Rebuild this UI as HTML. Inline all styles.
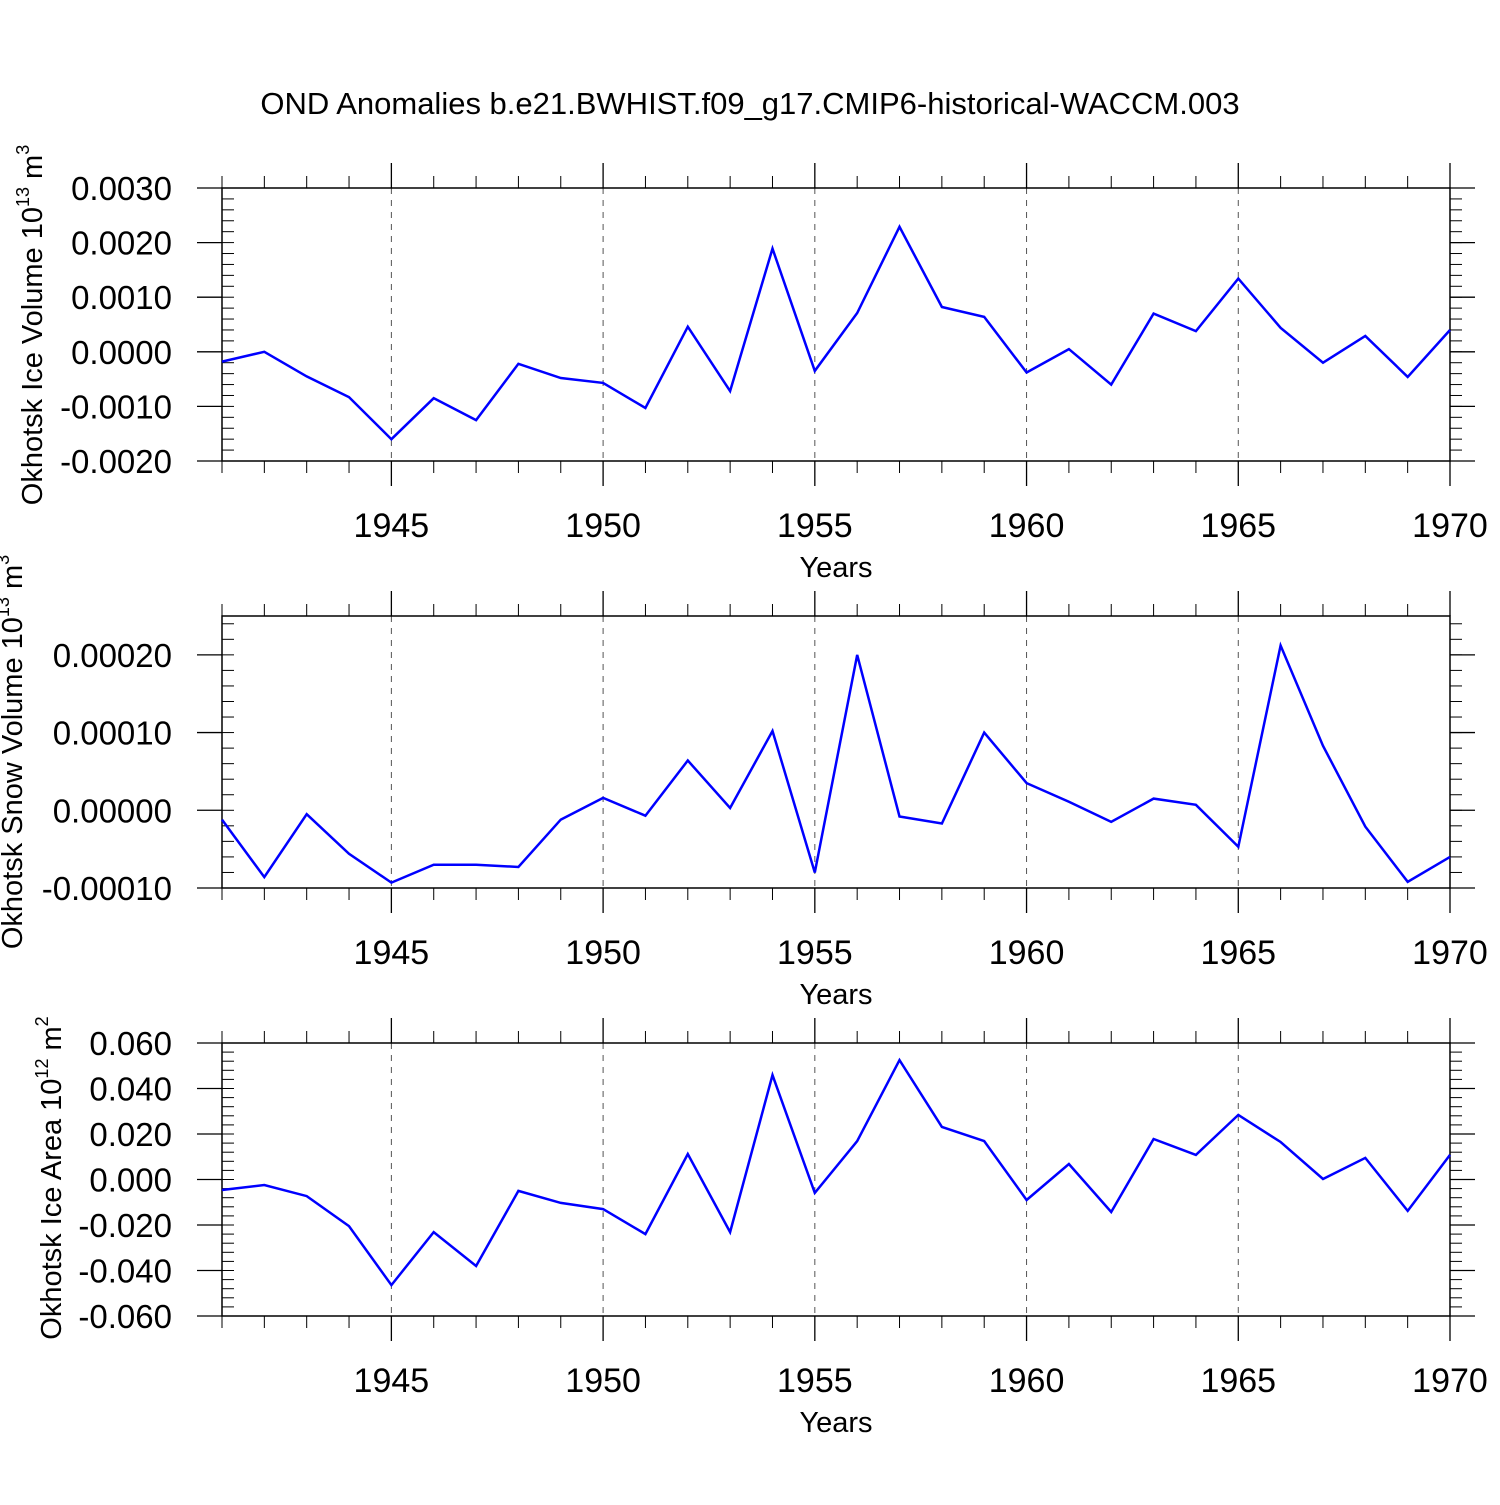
<!DOCTYPE html>
<html><head><meta charset="utf-8">
<style>
html,body{margin:0;padding:0;background:#fff;}
svg text{font-family:"Liberation Sans",Helvetica,Arial,sans-serif;fill:#000;}
</style></head>
<body>
<svg id="chart" width="1500" height="1500" viewBox="0 0 1500 1500" xmlns="http://www.w3.org/2000/svg">
<rect width="1500" height="1500" fill="#fff"/>
<text x="750" y="114" font-size="31" text-anchor="middle">OND Anomalies b.e21.BWHIST.f09_g17.CMIP6-historical-WACCM.003</text>
</svg>
<script>
const years = [1941,1942,1943,1944,1945,1946,1947,1948,1949,1950,1951,1952,1953,1954,1955,1956,1957,1958,1959,1960,1961,1962,1963,1964,1965,1966,1967,1968,1969,1970];
const iceVolume = [-0.00018,0.0,-0.00045,-0.00083,-0.0016,-0.00085,-0.00125,-0.00022,-0.00048,-0.00057,-0.00103,0.00046,-0.00072,0.00189,-0.00035,0.00071,0.00229,0.00082,0.00064,-0.00038,0.00005,-0.0006,0.0007,0.00038,0.00134,0.00044,-0.0002,0.00029,-0.00046,0.0004];
const snowVolume = [-0.000012,-0.000086,-0.000005,-0.000056,-0.000093,-0.00007,-0.00007,-0.000073,-0.000012,0.000016,-0.000007,0.000064,0.000003,0.000102,-0.00008,0.0002,-0.000008,-0.000017,0.0001,0.000035,0.000011,-0.000015,0.000015,0.000007,-0.000047,0.000212,0.000083,-0.000021,-0.000092,-0.00006];
const iceArea = [-0.0046,-0.0024,-0.0073,-0.0205,-0.0464,-0.0231,-0.038,-0.005,-0.0103,-0.013,-0.024,0.0112,-0.0231,0.0459,-0.0059,0.0169,0.0525,0.0231,0.0169,-0.009,0.0068,-0.0143,0.0178,0.0108,0.0284,0.0165,0.0002,0.0095,-0.0138,0.0108];
const xTickYears = [1945,1950,1955,1960,1965,1970];
const iceVolTicks = [-0.002,-0.001,0,0.001,0.002,0.003];
const iceVolLabels = ["-0.0020","-0.0010","0.0000","0.0010","0.0020","0.0030"];
const snowTicks = [-0.0001,0,0.0001,0.0002];
const snowLabels = ["-0.00010","0.00000","0.00010","0.00020"];
const areaTicks = [-0.06,-0.04,-0.02,0,0.02,0.04,0.06];
const areaLabels = ["-0.060","-0.040","-0.020","0.000","0.020","0.040","0.060"];

const NS = "http://www.w3.org/2000/svg";
const svg = document.getElementById('chart');
const X0 = 222, X1 = 1450, XMIN = 1941, XMAX = 1970;
const xs = v => X0 + (v - XMIN) / (XMAX - XMIN) * (X1 - X0);

function mk(tag, attrs, parent) {
  const e = document.createElementNS(NS, tag);
  for (const k in attrs) e.setAttribute(k, attrs[k]);
  parent.appendChild(e);
  return e;
}

function panel(cfg) {
  const g = mk('g', {}, svg);
  
  
  const ys = v => cfg.yTop + (cfg.ymax - v) / (cfg.ymax - cfg.ymin) * (cfg.yBot - cfg.yTop);
  const T = cfg.yTop, B = cfg.yBot;
  xTickYears.forEach(yr => {
    if (yr >= XMAX) return;
    const gl = mk('line', {x1: xs(yr), x2: xs(yr), y1: T, y2: B, stroke: '#555', 'stroke-width': 1, 'stroke-dasharray': '6,6'}, g);
    
    
  });
  for (let yr = XMIN; yr <= XMAX; yr++) {
    const major = yr % 5 === 0;
    const L = major ? 25 : 12;
    mk('line', {x1: xs(yr), x2: xs(yr), y1: T, y2: T - L, stroke: '#000', 'stroke-width': major ? 1.3 : 1}, g);
    mk('line', {x1: xs(yr), x2: xs(yr), y1: B, y2: B + L, stroke: '#000', 'stroke-width': major ? 1.3 : 1}, g);
  }
  xTickYears.forEach(yr => {
    const t = mk('text', {x: xs(yr), y: B + 76, 'font-size': 34, 'text-anchor': 'middle'}, g);
    t.textContent = yr;
    
    
  });
  const step = cfg.minor;
  const n = Math.floor((cfg.ymax - cfg.ymin) / step + 1e-6);
  for (let i = 0; i <= n; i++) {
    const v = cfg.ymin + i * step;
    const y = ys(v);
    mk('line', {x1: X0, x2: X0 + 12, y1: y, y2: y, stroke: '#000', 'stroke-width': 1}, g);
    mk('line', {x1: X1, x2: X1 + 12, y1: y, y2: y, stroke: '#000', 'stroke-width': 1}, g);
  }
  cfg.ticks.forEach((v, i) => {
    const y = ys(v);
    mk('line', {x1: X0 - 25, x2: X0, y1: y, y2: y, stroke: '#000', 'stroke-width': 1.3}, g);
    mk('line', {x1: X1, x2: X1 + 25, y1: y, y2: y, stroke: '#000', 'stroke-width': 1.3}, g);
    const t = mk('text', {x: 172, y: y + 12, 'font-size': 33, 'text-anchor': 'end'}, g);
    t.textContent = cfg.labels[i];
    
    
  });
  const fr = mk('rect', {x: X0, y: T, width: X1 - X0, height: B - T, fill: 'none', stroke: '#000', 'stroke-width': 1.5}, g);
  
  
  const pts = years.map((yr, i) => xs(yr).toFixed(1) + ',' + ys(cfg.data[i]).toFixed(1)).join(' ');
  const pl = mk('polyline', {points: pts, fill: 'none', stroke: '#0000ff', 'stroke-width': 2.5, 'stroke-linejoin': 'miter'}, g);
  
  
  const xt = mk('text', {x: 836, y: B + 116, 'font-size': 29, 'text-anchor': 'middle'}, g);
  xt.textContent = 'Years';
  
  
  const yt = mk('text', {x: 0, y: 0, 'font-size': 29, 'text-anchor': 'middle', transform: 'translate(' + cfg.titleX + ',' + cfg.titleY + ') rotate(-90)'}, g);
  
  
  yt.innerHTML = cfg.title + ' 10<tspan dy="-13" font-size="18">' + cfg.exp + '</tspan><tspan dy="13"> m</tspan><tspan dy="-13" font-size="18">' + cfg.unitExp + '</tspan>';
}

panel({name: 'ice-volume-panel', yTop: 188, yBot: 461, ymin: -0.002, ymax: 0.003, minor: 0.0002, ticks: iceVolTicks, labels: iceVolLabels, data: iceVolume, title: 'Okhotsk Ice Volume', exp: '13', unitExp: '3', titleX: 42, titleY: 325});
panel({name: 'snow-volume-panel', yTop: 616, yBot: 888, ymin: -0.0001, ymax: 0.00025, minor: 0.00002, ticks: snowTicks, labels: snowLabels, data: snowVolume, title: 'Okhotsk Snow Volume', exp: '13', unitExp: '3', titleX: 22, titleY: 752});
panel({name: 'ice-area-panel', yTop: 1043, yBot: 1316, ymin: -0.06, ymax: 0.06, minor: 0.004, ticks: areaTicks, labels: areaLabels, data: iceArea, title: 'Okhotsk Ice Area', exp: '12', unitExp: '2', titleX: 61, titleY: 1178});
</script>
</body></html>
